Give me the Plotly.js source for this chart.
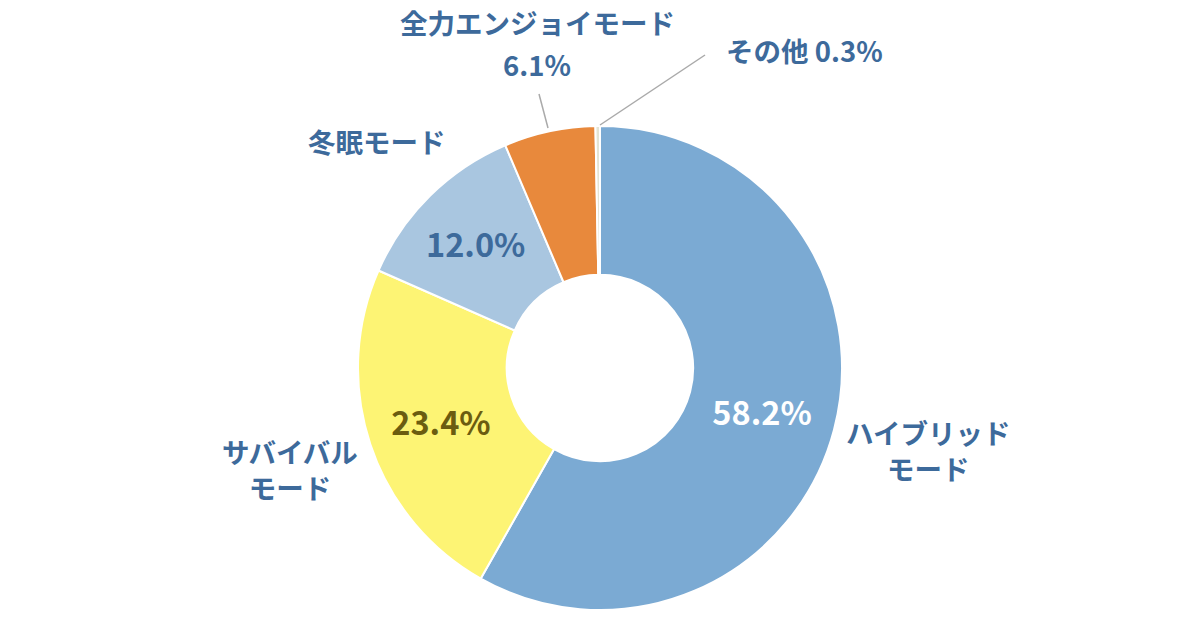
<!DOCTYPE html>
<html>
<head>
<meta charset="utf-8">
<script src="https://cdn.plot.ly/plotly-3.0.1.min.js"></script>
<style>html,body{margin:0;padding:0;background:#fff;}#chart{width:1200px;height:630px;}</style>
</head>
<body>
<div id="chart"></div>
<script>
const categories = ["ハイブリッドモード", "サバイバルモード", "冬眠モード", "全力エンジョイモード", "その他"];
const labelLines = [["ハイブリッド", "モード"], ["サバイバル", "モード"], ["冬眠モード"], ["全力エンジョイモード"], ["その他"]];
const values = [58.2, 23.4, 12.0, 6.1, 0.3];
const sliceColors = ["#7BAAD3", "#FDF474", "#A9C6E0", "#E8893C", "#E4E4D4"];
const insideTextColors = ["#FFFFFF", "#6B5C10", "#3D6A9B", "#3D6A9B", "#3D6A9B"];

const FONT = '"Noto Sans CJK JP", "Noto Sans", sans-serif';
const LABEL = "#3D6A9B";
const W = 1200, H = 630;
const px = (x) => x / W;
const py = (y) => 1 - y / H;

const trace = {
  type: "pie",
  labels: categories,
  values: values,
  sort: false,
  direction: "clockwise",
  rotation: 0,
  hole: 0.385,
  domain: { x: [px(358), px(842)], y: [py(610), py(126)] },
  marker: { colors: sliceColors, line: { color: "#FFFFFF", width: 2 } },
  texttemplate: "%{value:.1f}%",
  textposition: ["inside", "inside", "inside", "none", "none"],
  insidetextorientation: "horizontal",
  textfont: { family: FONT, size: 32.5, color: insideTextColors, weight: 700 },
  hoverinfo: "label+value",
  showlegend: false
};

const fmt = (v) => v.toFixed(1) + "%";
const ann = (text, x, y) => ({
  text: text, x: px(x), y: py(y), xref: "paper", yref: "paper",
  xanchor: "center", yanchor: "middle", showarrow: false, align: "center",
  font: { family: FONT, size: 27.5, color: LABEL, weight: 700 }
});

const annotations = [
  ann(labelLines[0].join("<br>"), 928, 450),
  ann(labelLines[1].join("<br>"), 290, 469),
  ann(labelLines[2][0], 377, 141),
  ann(labelLines[3][0], 537, 22),
  ann(fmt(values[3]), 537, 64),
  ann(labelLines[4][0] + " " + fmt(values[4]), 805, 50)
];

const shapes = [
  { type: "line", xref: "paper", yref: "paper", x0: px(539), y0: py(94), x1: px(548), y1: py(128), line: { color: "#AAAAAA", width: 1.5 } },
  { type: "line", xref: "paper", yref: "paper", x0: px(705), y0: py(55), x1: px(600), y1: py(125), line: { color: "#AAAAAA", width: 1.5 } }
];

Plotly.newPlot("chart", [trace], {
  width: W, height: H,
  margin: { l: 0, r: 0, t: 0, b: 0 },
  paper_bgcolor: "#FFFFFF",
  plot_bgcolor: "#FFFFFF",
  annotations: annotations,
  shapes: shapes,
  showlegend: false
}, { displayModeBar: false, staticPlot: true });
</script>
</body>
</html>
